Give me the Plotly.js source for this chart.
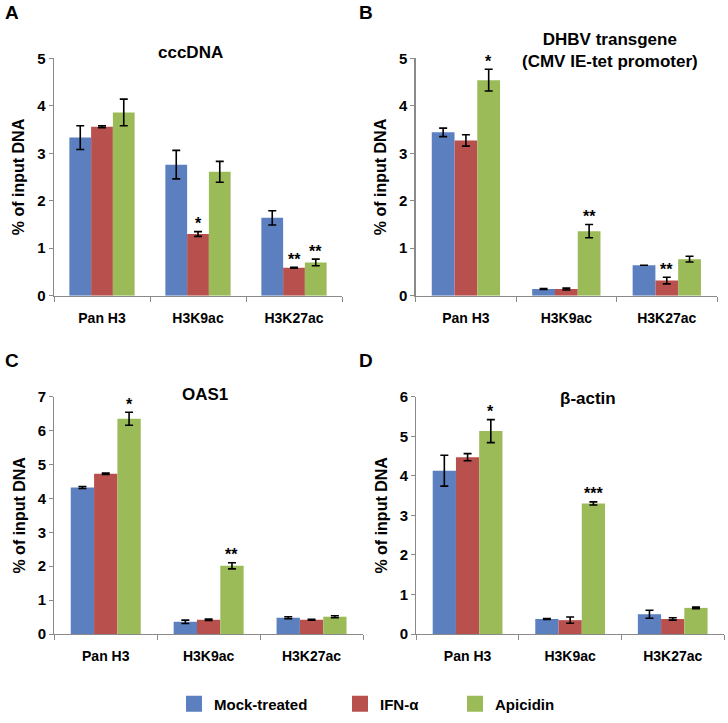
<!DOCTYPE html>
<html>
<head>
<meta charset="utf-8">
<script src="https://cdn.plot.ly/plotly-3.0.1.min.js"></script>
<style>html,body{margin:0;padding:0;background:#fff;}#chart{width:728px;height:723px;}</style>
</head>
<body>
<div id="chart"></div>
<script>
// ---- data ----
const categories = ['Pan H3', 'H3K9ac', 'H3K27ac'];
const seriesNames = ['Mock-treated', 'IFN-α', 'Apicidin'];
const seriesColors = ['#5B7FBF', '#B8504E', '#9BBB59'];

// Panel A: cccDNA
const cccMock = [3.33, 2.76, 1.64];
const cccMockErr = [0.25, 0.30, 0.15];
const cccIfn = [3.56, 1.30, 0.59];
const cccIfnErr = [0.02, 0.05, 0.01];
const cccApi = [3.86, 2.61, 0.70];
const cccApiErr = [0.28, 0.22, 0.07];
const cccStars = [['', '', ''], ['', '*', '**'], ['', '', '**']];

// Panel B: DHBV transgene
const dhbvMock = [3.44, 0.14, 0.64];
const dhbvMockErr = [0.09, 0.01, 0];
const dhbvIfn = [3.27, 0.14, 0.32];
const dhbvIfnErr = [0.12, 0.02, 0.07];
const dhbvApi = [4.54, 1.36, 0.77];
const dhbvApiErr = [0.23, 0.14, 0.06];
const dhbvStars = [['', '', ''], ['', '', '**'], ['*', '**', '']];

// Panel C: OAS1
const oasMock = [4.32, 0.36, 0.48];
const oasMockErr = [0.03, 0.05, 0.03];
const oasIfn = [4.73, 0.42, 0.42];
const oasIfnErr = [0.02, 0.02, 0.01];
const oasApi = [6.35, 2.01, 0.51];
const oasApiErr = [0.19, 0.09, 0.03];
const oasStars = [['', '', ''], ['', '', ''], ['*', '**', '']];

// Panel D: beta-actin
const actMock = [4.13, 0.38, 0.50];
const actMockErr = [0.39, 0.01, 0.10];
const actIfn = [4.47, 0.35, 0.38];
const actIfnErr = [0.09, 0.08, 0.03];
const actApi = [5.13, 3.30, 0.66];
const actApiErr = [0.29, 0.04, 0.02];
const actStars = [['', '', ''], ['', '', ''], ['*', '***', '']];

const panelTitles = ['cccDNA', 'DHBV transgene<br>(CMV IE-tet promoter)', 'OAS1', 'β-actin'];
const panelLetters = ['A', 'B', 'C', 'D'];
const yMax = [5, 5, 7, 6];
const yTitle = '% of input DNA';

// ---- layout helpers ----
const W = 728, H = 723;
const px = v => v / W;
const py = v => 1 - v / H;
const FONT = 'Liberation Sans, Arial, Helvetica, sans-serif';
const BARGAP = 0.32;
const AXC = '#8a8a8a';

const panels = [
  {vals: [cccMock, cccIfn, cccApi], errs: [cccMockErr, cccIfnErr, cccApiErr], stars: cccStars,
   xd: [px(54), px(342)], yd: [py(295.7), py(58.3)], title: {x: 190, y: 52.5}, letter: {x: 3, y: 0}},
  {vals: [dhbvMock, dhbvIfn, dhbvApi], errs: [dhbvMockErr, dhbvIfnErr, dhbvApiErr], stars: dhbvStars,
   xd: [px(415.7), px(717)], yd: [py(295.7), py(58.3)], title: {x: 610, y: 51}, letter: {x: 357, y: 0}},
  {vals: [oasMock, oasIfn, oasApi], errs: [oasMockErr, oasIfnErr, oasApiErr], stars: oasStars,
   xd: [px(54.3), px(363)], yd: [py(634), py(396.7)], title: {x: 205, y: 395}, letter: {x: 3, y: 348}},
  {vals: [actMock, actIfn, actApi], errs: [actMockErr, actIfnErr, actApiErr], stars: actStars,
   xd: [px(416.3), px(724)], yd: [py(634), py(396.7)], title: {x: 588, y: 398.5}, letter: {x: 357, y: 348}}
];

const traces = [];
const annotations = [];
const layout = {
  width: W, height: H,
  margin: {l: 0, r: 0, t: 0, b: 0},
  paper_bgcolor: '#fff', plot_bgcolor: '#fff',
  font: {family: FONT, color: '#000'},
  barmode: 'group', bargap: BARGAP, bargroupgap: 0,
  showlegend: true
};

const barW = (1 - BARGAP) / 3;

panels.forEach((p, k) => {
  const sfx = k === 0 ? '' : String(k + 1);
  const xa = 'x' + sfx, ya = 'y' + sfx;
  for (let s = 0; s < 3; s++) {
    traces.push({
      type: 'bar', name: seriesNames[s], x: categories, y: p.vals[s],
      xaxis: xa, yaxis: ya, showlegend: false,
      marker: {color: seriesColors[s], line: {width: 0}},
      error_y: {type: 'data', array: p.errs[s], visible: true, color: '#000', thickness: 1.6, width: 4},
      hoverinfo: 'x+y+name'
    });
    p.stars[s].forEach((txt, i) => {
      if (!txt) return;
      annotations.push({
        xref: xa, yref: ya, x: i + (s - 1) * barW, y: p.vals[s][i] + p.errs[s][i],
        text: '<b>' + txt + '</b>', showarrow: false, yanchor: 'middle', yshift: 8,
        font: {family: FONT, size: 16, color: '#000'}
      });
    });
  }
  layout['xaxis' + sfx] = {
    domain: p.xd, anchor: ya, type: 'category', range: [-0.5, 2.5],
    showline: true, linecolor: AXC, linewidth: 1.3, ticks: 'outside', tickson: 'boundaries',
    ticklen: 5, tickcolor: AXC, tickwidth: 1, showgrid: false, zeroline: false,
    tickfont: {family: FONT, size: 14, weight: 'bold', color: '#000'}, ticklabelstandoff: 9
  };
  layout['yaxis' + sfx] = {
    domain: p.yd, anchor: xa, range: [0, yMax[k]], dtick: 1, tick0: 0,
    showline: true, linecolor: AXC, linewidth: 1.3, ticks: 'outside', ticklen: 4,
    tickcolor: AXC, showgrid: false, zeroline: false,
    tickfont: {family: FONT, size: 15, weight: 'bold', color: '#000'},
    title: {text: yTitle, font: {family: FONT, size: 16, weight: 'bold', color: '#000'}, standoff: 8}
  };
  annotations.push({
    xref: 'paper', yref: 'paper', x: px(p.title.x), y: py(p.title.y),
    text: '<b>' + panelTitles[k] + '</b>', showarrow: false, xanchor: 'center', yanchor: 'middle',
    font: {family: FONT, size: 17, color: '#000'}
  });
  annotations.push({
    xref: 'paper', yref: 'paper', x: px(p.letter.x), y: py(p.letter.y),
    text: '<b>' + panelLetters[k] + '</b>', showarrow: false, xanchor: 'left', yanchor: 'top',
    font: {family: FONT, size: 19, color: '#000'}
  });
});

// legend entries (one legend per entry so each can sit where the original has it)
const legendX = [174, 340, 455];
['legend', 'legend2', 'legend3'].forEach((lg, s) => {
  traces.push({
    type: 'scatter', mode: 'markers', x: [null], y: [null], xaxis: 'x', yaxis: 'y',
    name: seriesNames[s], legend: lg, showlegend: true, hoverinfo: 'skip',
    marker: {symbol: 'square', size: 16, color: seriesColors[s]}
  });
  layout[lg] = {
    x: px(legendX[s]), y: py(704), xanchor: 'left', yanchor: 'middle',
    orientation: 'h', bgcolor: 'rgba(0,0,0,0)', borderwidth: 0,
    font: {family: FONT, size: 15, weight: 'bold', color: '#000'}
  };
});

layout.annotations = annotations;
Plotly.newPlot('chart', traces, layout, {displayModeBar: false, staticPlot: true});
</script>
</body>
</html>
